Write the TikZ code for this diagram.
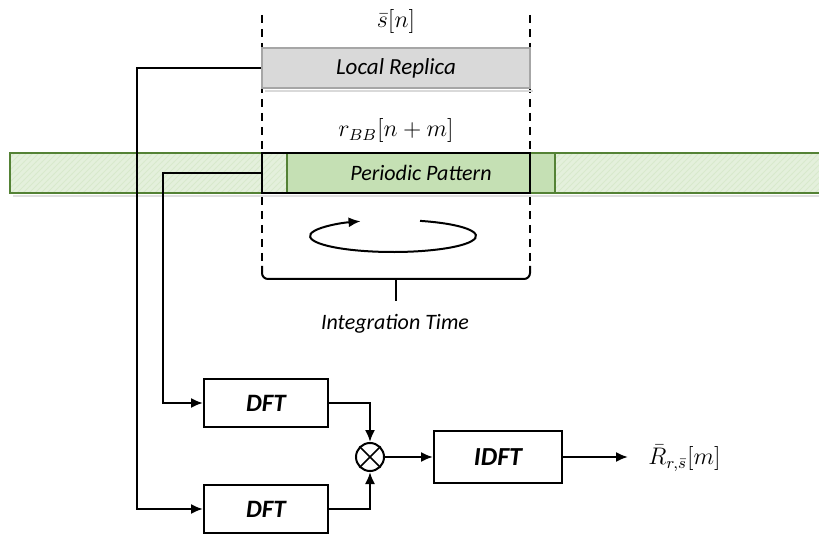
\documentclass[tikz,border=0pt]{standalone}
\usepackage{fontspec}
\setmainfont{Carlito}
\usepackage{amsmath}
\usetikzlibrary{arrows.meta, positioning, patterns}

\definecolor{bandlight}{HTML}{E4F0DC}
\definecolor{bandhatch}{HTML}{D8E9CC}
\definecolor{banddark}{HTML}{C5E0B4}
\definecolor{bandedge}{HTML}{548235}
\definecolor{replicagray}{HTML}{D9D9D9}
\definecolor{replicaedge}{HTML}{A6A6A6}

\tikzset{
  wire/.style={line width=1pt},
  guide/.style={line width=0.8pt, dash pattern=on 4pt off 3pt},
  block/.style={draw, line width=1pt, fill=white, minimum width=62pt, minimum height=24pt,
    font=\fontsize{12.5}{14}\selectfont\bfseries\itshape},
  replicabox/.style={draw=replicaedge, line width=1pt, fill=replicagray, minimum width=134pt,
    minimum height=20pt, font=\fontsize{11.5}{13}\selectfont\itshape},
  mixer/.style={draw, line width=1pt, circle, minimum size=14pt, inner sep=0pt},
  lbl/.style={font=\fontsize{12}{14}\selectfont, inner sep=1pt}
}

\begin{document}
\begin{tikzpicture}[>={Latex[length=6pt,width=5pt]}, x=0.5pt, y=-0.5pt]

    \useasboundingbox (0,0) rectangle (819,534);

    % received band
    \fill[black!12] (13,195) rectangle (819,197);
    \fill[bandlight] (10,153) rectangle (819,193);
    \fill[pattern=north east lines, pattern color=bandhatch] (10,153) rectangle (819,193);
    \fill[banddark] (287,153) rectangle (555,193);
    \draw[bandedge, line width=1pt] (819,153) -- (10,153) -- (10,193) -- (819,193)
        (287,153) -- (287,193) (555,153) -- (555,193);

    % integration window
    \coordinate (winL top) at (262,15);
    \coordinate (winL bot) at (262,266);
    \coordinate (winR top) at (530,15);
    \coordinate (winR bot) at (530,266);
    \draw[guide] (winL top) -- (winL bot);
    \draw[guide] (winR top) -- (winR bot);

    \node[lbl] (sbar) at (396,22) {$\bar{s}[n]$};
    \fill[black!15] (265,90) rectangle (533,92);
    \node[replicabox] (replica) at (396,68) {Local Replica};
    \node[lbl] (rbb) at (396,131) {$r_{BB}[n+m]$};

    \node[font=\fontsize{11}{13}\selectfont\itshape] (pattern) at (421,173) {Periodic Pattern};
    \node[draw, line width=1pt, minimum width=134pt, minimum height=20pt] (window) at (396,173) {};

    % circular correlation loop
    \coordinate (loop) at (393,236);
    \draw[wire, ->] ([shift={(-71:83 and 16)}]loop)
        arc[start angle=-71, end angle=247, x radius=83, y radius=16];

    % brace
    \coordinate (brace mid) at (396,279);
    \coordinate (brace tip) at (396,301);
    \draw[wire, rounded corners=3pt] (winL bot) |- (brace mid) -| (winR bot);
    \draw[wire] (brace mid) -- (brace tip);
    \node[font=\fontsize{11}{13}\selectfont\itshape] (inttime) at (395,324) {Integration Time};

    % processing chain
    \node[block] (dft1) at (266,403) {DFT};
    \node[block] (dft2) at (266,509) {DFT};
    \node[mixer] (mult) at (370,457) {};
    \draw[line width=0.8pt] (mult.north west) -- (mult.south east) (mult.north east) -- (mult.south west);
    \node[block, minimum width=64pt, minimum height=26pt, font=\fontsize{13}{15}\selectfont\bfseries\itshape] (idft) at (498,457) {IDFT};
    \coordinate (out) at (628,457);
    \node[lbl, anchor=west, font=\fontsize{11.5}{13}\selectfont] (rout) at (646,458) {$\bar{R}_{r,\bar{s}}[m]$};

    \coordinate (busA) at (137,0);
    \coordinate (busB) at (163,0);

    \draw[wire, ->] (replica.west) -- (replica.west -| busA) |- (dft2.west);
    \draw[wire, ->] (window.west) -- (window.west -| busB) |- (dft1.west);
    \draw[wire, ->] (dft1.east) -| (mult.north);
    \draw[wire, ->] (dft2.east) -| (mult.south);
    \draw[wire, ->] (mult) -- (idft);
    \draw[wire, ->] (idft) -- (out);

\end{tikzpicture}
\end{document}
